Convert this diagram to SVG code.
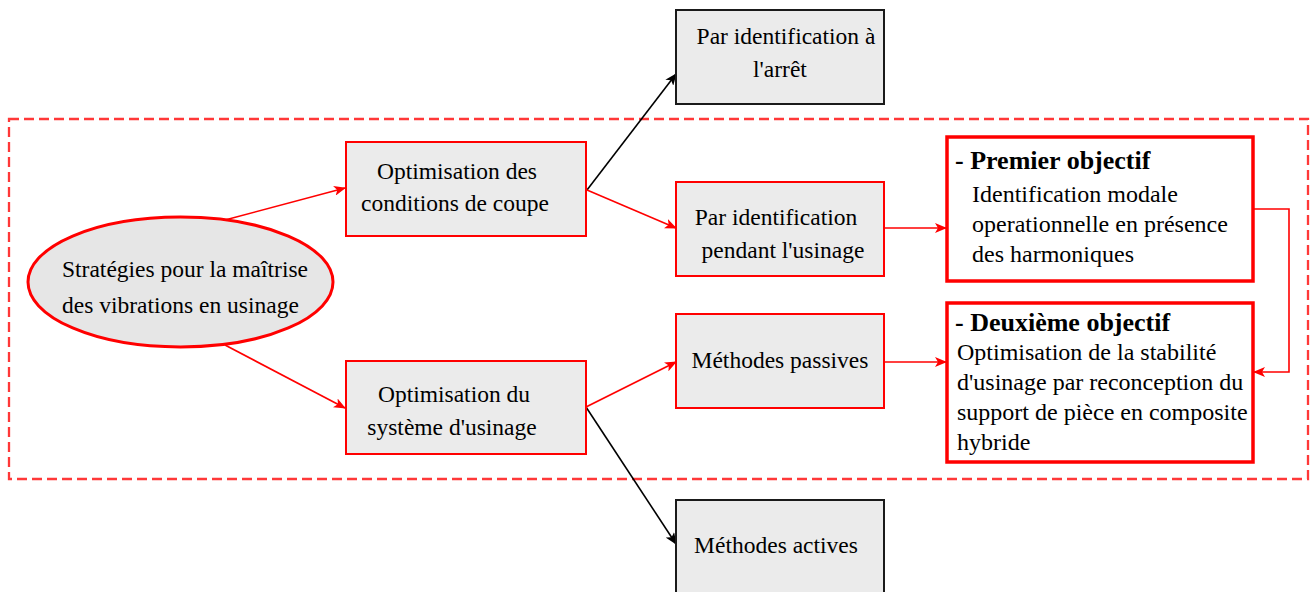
<svg xmlns="http://www.w3.org/2000/svg" width="1315" height="592" viewBox="0 0 1315 592">
<style>
text{font-family:"Liberation Serif","Times New Roman",serif;font-size:23.5px;fill:#000}
.obj{font-size:24px}
.bold{font-weight:bold;font-size:26px}
.mid{text-anchor:middle}
.rbox{fill:#EBEBEB;stroke:#FF0000;stroke-width:2}
.kbox{fill:#EBEBEB;stroke:#1a1a1a;stroke-width:2}
.obox{fill:#FFFFFF;stroke:#FF0000;stroke-width:3.5}
.rc{stroke:#FF0000;stroke-width:1.6;fill:none}
.kc{stroke:#000;stroke-width:1.6;fill:none}
</style>
<defs>
<marker id="ar" markerWidth="12" markerHeight="10" refX="11" refY="5" orient="auto" markerUnits="userSpaceOnUse">
<path d="M0,0 L12,5 L0,10 L3,5 Z" fill="#FF0000"/>
</marker>
<marker id="ak" markerWidth="12" markerHeight="10" refX="11" refY="5" orient="auto" markerUnits="userSpaceOnUse">
<path d="M0,0 L12,5 L0,10 L3,5 Z" fill="#000"/>
</marker>
</defs>
<rect width="1315" height="592" fill="#FFFFFF"/>
<rect id="frame" x="9" y="119" width="1299" height="360" fill="none" stroke="#FF3838" stroke-width="2.3" stroke-dasharray="10 5"/>
<g id="connectors">
<line class="rc" x1="225" y1="220" x2="345" y2="188" marker-end="url(#ar)"/>
<line class="rc" x1="225" y1="345" x2="345" y2="408" marker-end="url(#ar)"/>
<line class="kc" x1="587" y1="190" x2="676" y2="74" marker-end="url(#ak)"/>
<line class="rc" x1="587" y1="190" x2="676" y2="228" marker-end="url(#ar)"/>
<line class="rc" x1="586" y1="407" x2="676" y2="362" marker-end="url(#ar)"/>
<line class="kc" x1="586" y1="407" x2="676" y2="544" marker-end="url(#ak)"/>
<line class="rc" x1="884" y1="228" x2="946" y2="228" marker-end="url(#ar)"/>
<line class="rc" x1="884" y1="362" x2="946" y2="362" marker-end="url(#ar)"/>
<polyline class="rc" points="1253,209 1289,209 1289,372 1254,372" marker-end="url(#ar)"/>
</g>
<g id="strategies">
<ellipse cx="180.5" cy="282" rx="152.5" ry="65" fill="#E6E6E6" stroke="#FF0000" stroke-width="3"/>
<text x="62" y="277">Stratégies pour la maîtrise</text>
<text x="62" y="313">des vibrations en usinage</text>
</g>
<g id="opt-conditions">
<rect class="rbox" x="346" y="142" width="240" height="94"/>
<text class="mid" x="457" y="179">Optimisation des</text>
<text class="mid" x="455" y="211">conditions de coupe</text>
</g>
<g id="opt-systeme">
<rect class="rbox" x="346" y="361" width="240" height="93"/>
<text class="mid" x="454" y="402">Optimisation du</text>
<text class="mid" x="452" y="435">système d'usinage</text>
</g>
<g id="arret">
<rect class="kbox" x="676" y="10" width="208" height="94"/>
<text class="mid" x="786" y="44">Par identification à</text>
<text class="mid" x="780" y="77">l'arrêt</text>
</g>
<g id="pendant">
<rect class="rbox" x="676" y="182" width="208" height="94"/>
<text class="mid" x="776" y="225">Par identification</text>
<text class="mid" x="783" y="258">pendant l'usinage</text>
</g>
<g id="passives">
<rect class="rbox" x="676" y="314" width="208" height="94"/>
<text class="mid" x="780" y="368">Méthodes passives</text>
</g>
<g id="actives">
<rect class="kbox" x="676" y="500" width="208" height="100"/>
<text class="mid" x="776" y="553">Méthodes actives</text>
</g>
<g id="premier">
<rect class="obox" x="947" y="137" width="306" height="144"/>
<text class="bold" x="955" y="169">- Premier objectif</text>
<text class="obj" x="972" y="202">Identification modale</text>
<text class="obj" x="972" y="232">operationnelle en présence</text>
<text class="obj" x="972" y="262">des harmoniques</text>
</g>
<g id="deuxieme">
<rect class="obox" x="947" y="303" width="306" height="159"/>
<text class="bold" x="955" y="331">- Deuxième objectif</text>
<text class="obj" x="957" y="360">Optimisation de la stabilité</text>
<text class="obj" x="957" y="390">d'usinage par reconception du</text>
<text class="obj" x="957" y="420">support de pièce en composite</text>
<text class="obj" x="957" y="450">hybride</text>
</g>
</svg>
